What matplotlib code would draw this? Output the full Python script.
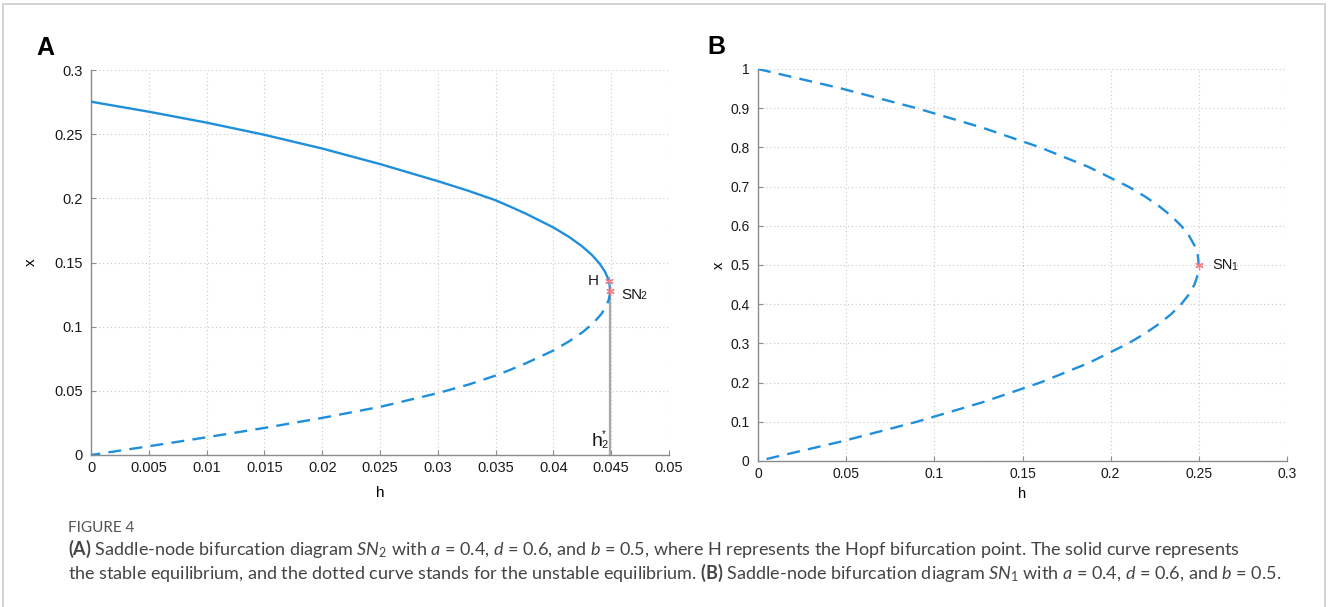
import matplotlib
matplotlib.use("Agg")
import matplotlib.pyplot as plt
from matplotlib.patches import Rectangle

plt.rcParams['font.family'] = ['Liberation Sans', 'DejaVu Sans']
plt.rcParams['mathtext.fontset'] = 'custom'
plt.rcParams['mathtext.rm'] = 'Lato'
plt.rcParams['mathtext.it'] = 'Lato:italic'
plt.rcParams['mathtext.bf'] = 'Lato:bold'

BLUE = '#1f8fdc'
MARK = '#ee7f86'
GRID = '#c8c8c8'
AXC = '#8c8c8c'
ASTER = (6, 2, 0)  # asterisk marker

# --- panel A: equilibrium branches x(h) for SN2 ---
upper_x = [0.2753, 0.2675, 0.259, 0.2495, 0.2388, 0.2267, 0.2134, 0.206, 0.1985, 0.193,
           0.188, 0.1773, 0.170, 0.163, 0.156, 0.149, 0.143, 0.138, 0.134, 0.131, 0.128]
upper_h = [0.0, 0.005, 0.01, 0.015, 0.02, 0.025, 0.03, 0.0326, 0.035, 0.0364,
           0.03763, 0.04, 0.04134, 0.04243, 0.04332, 0.04401, 0.04445, 0.0447, 0.04483,
           0.04488, 0.0449]
lower_x = [0.128, 0.125, 0.121, 0.116, 0.110, 0.103, 0.096, 0.089, 0.0814, 0.0714,
           0.0665, 0.0619, 0.055, 0.0482, 0.0375, 0.0289, 0.0211, 0.0138, 0.0068, 0.0]
lower_h = [0.0449, 0.04488, 0.04479, 0.04457, 0.04416, 0.04348, 0.04257, 0.04143, 0.04, 0.0376,
           0.0363, 0.035, 0.0327, 0.03, 0.025, 0.02, 0.015, 0.01, 0.005, 0.0]
hopf = (0.04479, 0.1355)
sn2 = (0.0449, 0.128)
h2_star = 0.0449

a_xticks = [0, 0.005, 0.01, 0.015, 0.02, 0.025, 0.03, 0.035, 0.04, 0.045, 0.05]
a_xlabels = ['0', '0.005', '0.01', '0.015', '0.02', '0.025', '0.03', '0.035', '0.04', '0.045', '0.05']
a_yticks = [0, 0.05, 0.1, 0.15, 0.2, 0.25, 0.3]
a_ylabels = ['0', '0.05', '0.1', '0.15', '0.2', '0.25', '0.3']

# --- panel B: equilibrium branches x(h) for SN1 ---
b_x = [1.0, 0.95, 0.9, 0.85, 0.8, 0.75, 0.7, 0.675, 0.65, 0.625, 0.6, 0.575, 0.55, 0.525, 0.5,
       0.475, 0.45, 0.425, 0.4, 0.375, 0.35, 0.325, 0.3, 0.25, 0.2, 0.15, 0.1, 0.05, 0.0]
b_h = [0.0, 0.0475, 0.09, 0.1275, 0.16, 0.1875, 0.21, 0.2194, 0.2275, 0.2344, 0.24, 0.2444,
       0.2475, 0.2494, 0.25, 0.2494, 0.2475, 0.2444, 0.24, 0.2344, 0.2275, 0.2194, 0.21,
       0.1875, 0.16, 0.1275, 0.09, 0.0475, 0.0]
sn1 = (0.25, 0.5)

b_xticks = [0, 0.05, 0.1, 0.15, 0.2, 0.25, 0.3]
b_xlabels = ['0', '0.05', '0.1', '0.15', '0.2', '0.25', '0.3']
b_yticks = [0, 0.1, 0.2, 0.3, 0.4, 0.5, 0.6, 0.7, 0.8, 0.9, 1.0]
b_ylabels = ['0', '0.1', '0.2', '0.3', '0.4', '0.5', '0.6', '0.7', '0.8', '0.9', '1']

W, H = 1328, 607
fig = plt.figure(figsize=(W / 100, H / 100), dpi=100)
fig.patch.set_facecolor('white')

# light frame round the figure block
fig.patches.append(Rectangle((3 / W, -0.02), (1325 - 3) / W, 1.02 - 4 / H,
                             transform=fig.transFigure, fill=False,
                             edgecolor='#d0d0d0', linewidth=1.3))


def style_axes(ax, xt, xl, yt, yl, fs):
    ax.set_xticks(xt)
    ax.set_xticklabels(xl)
    ax.set_yticks(yt)
    ax.set_yticklabels(yl)
    ax.set_xlim(xt[0], xt[-1])
    ax.set_ylim(yt[0], yt[-1])
    ax.grid(True, linestyle=(0, (1, 2.5)), color=GRID, linewidth=0.8)
    for s in ('top', 'right'):
        ax.spines[s].set_visible(False)
    for s in ('left', 'bottom'):
        ax.spines[s].set_color(AXC)
        ax.spines[s].set_linewidth(1.0)
    ax.tick_params(direction='in', length=3.5, width=0.8, color=AXC,
                   labelsize=fs, labelcolor='#1a1a1a')
    ax.tick_params(axis='x', pad=4)
    ax.tick_params(axis='y', pad=6)
    ax.set_axisbelow(True)


# panel A
axA = fig.add_axes([91 / W, (H - 455) / H, 578 / W, 385 / H])
style_axes(axA, a_xticks, a_xlabels, a_yticks, a_ylabels, 10.5)
axA.plot([h2_star, h2_star], [0, sn2[1]], color='#a8a8a8', linewidth=1.6, zorder=2)
axA.plot(upper_h, upper_x, color=BLUE, linewidth=1.7, zorder=3)
axA.plot(lower_h, lower_x, color=BLUE, linewidth=1.7, dashes=(5.5, 3.5), zorder=3)
axA.plot(*hopf, marker=ASTER, color=MARK, markersize=6, markeredgewidth=0.9, zorder=4)
axA.plot(*sn2, marker=ASTER, color=MARK, markersize=6, markeredgewidth=0.9, zorder=4)
axA.text(0.0439, hopf[1], 'H', fontsize=11, ha='right', va='center', color='#1a1a1a')
t_sn2 = axA.text(0.0459, 0.1247, 'SN', fontsize=11, ha='left', va='center', color='#1a1a1a')
axA.annotate('2', xy=(1, 0.05), xycoords=t_sn2, xytext=(-1.5, 0), textcoords='offset points',
             fontsize=7.5, ha='left', va='bottom', color='#1a1a1a')
t_h = axA.text(0.04375, 0.004, 'h', fontsize=14, ha='center', va='bottom', color='#1a1a1a')
axA.annotate('2', xy=(1, 0.02), xycoords=t_h, xytext=(-0.5, 0), textcoords='offset points',
             fontsize=8, ha='left', va='bottom', color='#1a1a1a')
axA.annotate('*', xy=(1, 0.62), xycoords=t_h, xytext=(-0.5, 0), textcoords='offset points',
             fontsize=7, ha='left', va='bottom', color='#1a1a1a')
axA.set_xlabel('h', fontsize=11, labelpad=8)
axA.set_ylabel('x', fontsize=11, labelpad=12)

# panel B
axB = fig.add_axes([758 / W, (H - 461) / H, 529 / W, 392 / H])
style_axes(axB, b_xticks, b_xlabels, b_yticks, b_ylabels, 10)
axB.plot(b_h, b_x, color=BLUE, linewidth=1.7, dashes=(5.5, 3.5), zorder=3)
axB.plot(*sn1, marker=ASTER, color=MARK, markersize=6, markeredgewidth=0.9, zorder=4)
t_sn1 = axB.text(0.2575, sn1[1], 'SN', fontsize=10.5, ha='left', va='center', color='#1a1a1a')
axB.annotate('1', xy=(1, 0.02), xycoords=t_sn1, xytext=(-1, 0), textcoords='offset points',
             fontsize=7.5, ha='left', va='bottom', color='#1a1a1a')
axB.set_xlabel('h', fontsize=10.5, labelpad=5)
axB.set_ylabel('x', fontsize=10.5, labelpad=3)

# panel letters
fig.text(36 / W, 1 - 48 / H, 'A', fontsize=18, fontweight='bold', ha='left', va='center')
fig.text(707 / W, 1 - 47 / H, 'B', fontsize=18, fontweight='bold', ha='left', va='center')

# caption
cap_font = ['Lato', 'DejaVu Sans']
fig.text(68 / W, 1 - 528 / H, 'FIGURE 4', fontsize=11, color='#555555',
         family=cap_font, ha='left', va='center')
line1 = (r'$\mathbf{(A)}$ Saddle-node bifurcation diagram $\mathit{SN}_2$ with '
         r'$\mathit{a}$ = 0.4, $\mathit{d}$ = 0.6, and $\mathit{b}$ = 0.5, where H represents '
         r'the Hopf bifurcation point. The solid curve represents')
line2 = (r'the stable equilibrium, and the dotted curve stands for the unstable equilibrium. '
         r'$\mathbf{(B)}$ Saddle-node bifurcation diagram $\mathit{SN}_1$ with '
         r'$\mathit{a}$ = 0.4, $\mathit{d}$ = 0.6, and $\mathit{b}$ = 0.5.')
fig.text(68 / W, 1 - 549 / H, line1, fontsize=13.0, color='#444444',
         family=cap_font, ha='left', va='center')
fig.text(68 / W, 1 - 573 / H, line2, fontsize=13.0, color='#444444',
         family=cap_font, ha='left', va='center')

fig.savefig('out.png', dpi=100, facecolor='white')
